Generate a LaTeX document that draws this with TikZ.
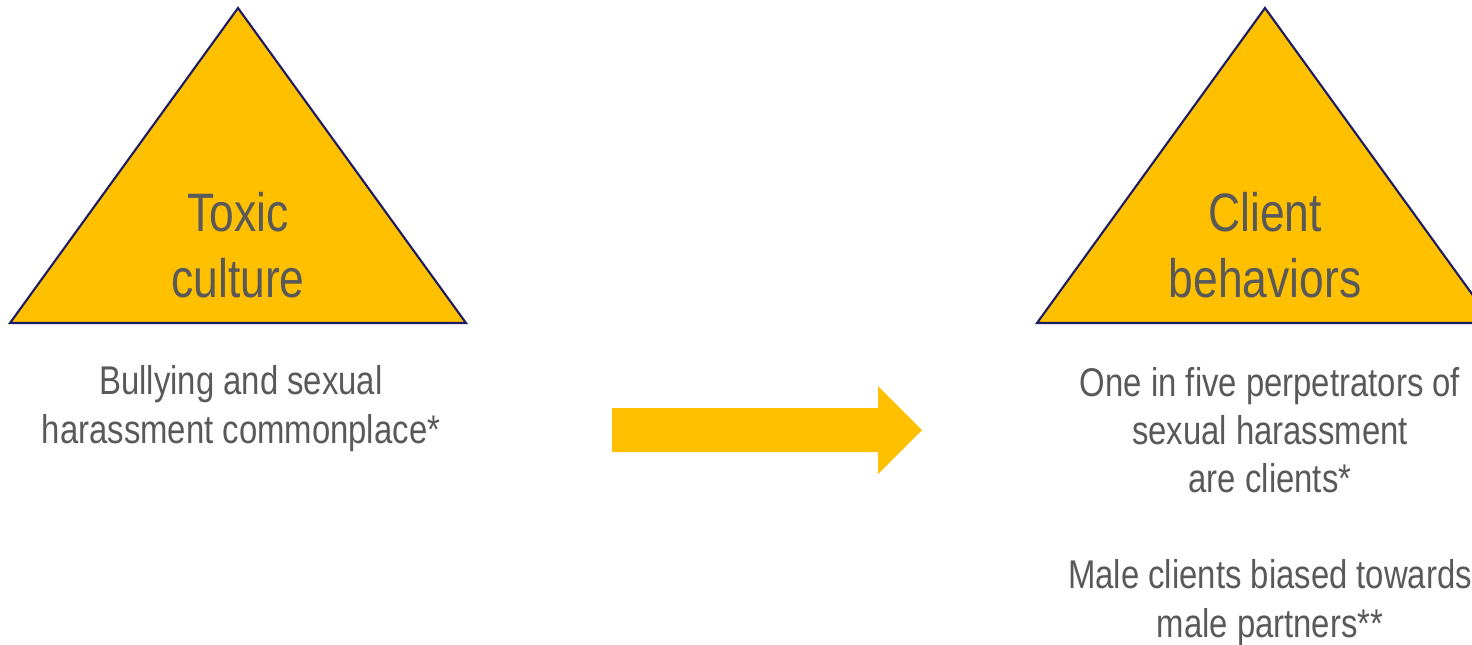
\documentclass[tikz,border=0pt]{standalone}
\usepackage{fontspec}
\setmainfont{Liberation Sans}[FakeStretch=0.82]
\usetikzlibrary{positioning}

\definecolor{gold}{HTML}{FFC000}
\definecolor{navy}{HTML}{1C1C64}
\definecolor{txtgray}{HTML}{595959}

\begin{document}
\begin{tikzpicture}[
    x=0.01cm, y=-0.01cm,
    tri/.style={draw=navy, line width=0.6pt, fill=gold, line join=miter},
    title/.style={text=txtgray, align=center, inner sep=0pt, anchor=base,
        font=\fontsize{15.4pt}{18.5pt}\selectfont},
    note/.style={text=txtgray, align=center, inner sep=0pt, anchor=base,
        font=\fontsize{11.4pt}{13.66pt}\selectfont}
]
\useasboundingbox (0,0) rectangle (1472,644);
\clip (0,0) rectangle (1472,644);

% Triangles
\draw [tri] (238,8) -- (466,323) -- (10,323) -- cycle;
\draw [tri] (1265,8) -- (1493,323) -- (1037,323) -- cycle;

% Titles
\node [title] (toxic) at (238,297) {Toxic\\culture};
\node [title] (client) at (1265,297) {Client\\behaviors};

% Notes
\node [note] (bully) at (241,443) {Bullying and sexual\\harassment commonplace*};
\node [note] (perp) at (1270,637) {One in five perpetrators of\\sexual harassment\\are clients*\\[13.66pt]Male clients biased towards\\male partners**};

% Arrow
\coordinate (tail) at (612,430);
\coordinate (tip) at (922,430);
\fill [gold] (tail) ++(0,-22) -- ++(266,0) -- ++(0,-22) -- (tip)
    -- ++(-44,44) -- ++(0,-22) -- ++(-266,0) -- cycle;

\end{tikzpicture}
\end{document}
